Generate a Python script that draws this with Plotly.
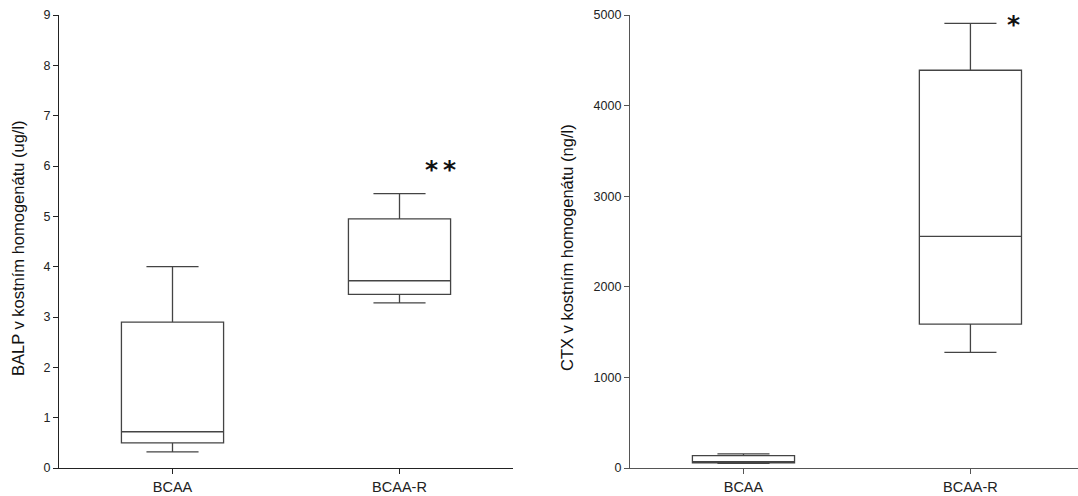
import plotly.graph_objects as go

categories = ["BCAA", "BCAA-R"]

# BALP (ug/l)
balp_lower = [0.32, 3.28]
balp_q1 = [0.50, 3.45]
balp_median = [0.72, 3.72]
balp_q3 = [2.90, 4.95]
balp_upper = [4.00, 5.45]

# CTX (ng/l)
ctx_lower = [50, 1277]
ctx_q1 = [58, 1589]
ctx_median = [68, 2557]
ctx_q3 = [136, 4390]
ctx_upper = [155, 4908]

balp_ticks = [0, 1, 2, 3, 4, 5, 6, 7, 8, 9]
ctx_ticks = [0, 1000, 2000, 3000, 4000, 5000]

W, H = 1078, 496
fig = go.Figure()

line_col = "#444444"
for i, c in enumerate(categories):
    fig.add_trace(go.Box(
        x=[c], q1=[balp_q1[i]], median=[balp_median[i]], q3=[balp_q3[i]],
        lowerfence=[balp_lower[i]], upperfence=[balp_upper[i]],
        width=0.45, whiskerwidth=0.51, fillcolor="white",
        line=dict(color=line_col, width=1.3), boxpoints=False,
        xaxis="x", yaxis="y", showlegend=False, hoverinfo="skip"))
    fig.add_trace(go.Box(
        x=[c], q1=[ctx_q1[i]], median=[ctx_median[i]], q3=[ctx_q3[i]],
        lowerfence=[ctx_lower[i]], upperfence=[ctx_upper[i]],
        width=0.45, whiskerwidth=0.51, fillcolor="white",
        line=dict(color=line_col, width=1.3), boxpoints=False,
        xaxis="x2", yaxis="y2", showlegend=False, hoverinfo="skip"))

fam = "Liberation Sans, Arial, sans-serif"

def xax(domain, rng, col, anchor):
    return dict(domain=domain, anchor=anchor, type="category", categoryorder="array",
                categoryarray=categories, range=rng, showline=True,
                linecolor=col, linewidth=1.3, ticks="outside", ticklen=5,
                tickcolor=col, tickwidth=1.3, showgrid=False, zeroline=False,
                tickfont=dict(size=14.5, family=fam, color="#222222"),
                automargin=False, fixedrange=True)

def yax(anchor, rng, tv, col):
    return dict(anchor=anchor, domain=[28 / H, 1 - 15 / H], range=rng,
                tickvals=tv, showline=True, linecolor=col, linewidth=1.3,
                ticks="outside", ticklen=5, tickcolor=col, tickwidth=1.3,
                showgrid=False, zeroline=False,
                tickfont=dict(size=12.5, family=fam, color="#222222"),
                automargin=False, fixedrange=True)

fig.update_layout(
    width=W, height=H,
    margin=dict(l=0, r=0, t=0, b=0, autoexpand=False),
    paper_bgcolor="white", plot_bgcolor="white",
    xaxis=xax([59 / W, 513 / W], [-0.5, 1.5], "#222222", "y"),
    yaxis=yax("x", [0, 9], balp_ticks, "#222222"),
    xaxis2=xax([630 / W, 1.0], [-0.5, 1.474], "#555555", "y2"),
    yaxis2=yax("x2", [0, 5000], ctx_ticks, "#555555"),
)

# axis titles
fig.add_annotation(x=18 / W, y=(1 - 248 / H), xref="paper", yref="paper",
                   text="BALP v kostním homogenátu (ug/l)", textangle=-90,
                   showarrow=False, xanchor="center", yanchor="middle",
                   font=dict(size=16.5, family=fam, color="#111111"))
fig.add_annotation(x=567 / W, y=(1 - 248 / H), xref="paper", yref="paper",
                   text="CTX v kostním homogenátu (ng/l)", textangle=-90,
                   showarrow=False, xanchor="center", yanchor="middle",
                   font=dict(size=16.5, family=fam, color="#111111"))

# significance marks
fig.add_annotation(x=1.18, y=5.93, xref="x", yref="y", text="<b>*\u2009*</b>", showarrow=False,
                   font=dict(size=25, color="#111111", family="DejaVu Sans"), yanchor="middle")
fig.add_annotation(x=1.19, y=4890, xref="x2", yref="y2", text="<b>*</b>", showarrow=False,
                   font=dict(size=25, color="#111111", family="DejaVu Sans"), yanchor="middle")

fig.write_html("out.html", config={"displayModeBar": False},
               post_script="document.body.style.margin='0';document.body.style.overflow='hidden';")
